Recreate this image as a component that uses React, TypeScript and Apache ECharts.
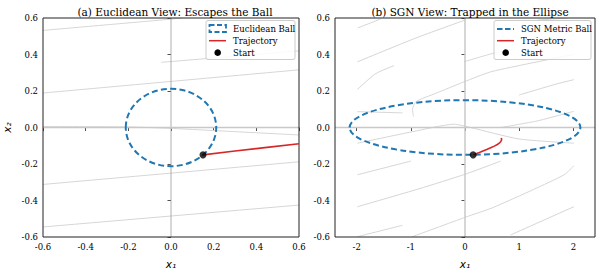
import React, { useEffect, useRef } from "react";
import * as echarts from "echarts";

const leftTitle = "(a) Euclidean View: Escapes the Ball";
const rightTitle = "(b) SGN View: Trapped in the Ellipse";
const leftXTicks = [-0.6, -0.4, -0.2, 0, 0.2, 0.4, 0.6];
const rightXTicks = [-2, -1, 0, 1, 2];
const yTicks = [-0.6, -0.4, -0.2, 0, 0.2, 0.4, 0.6];

// [cx, cy, rx, ry]
const euclidBall = [0, 0, 0.212, 0.212];
const sgnBall = [0, 0, 2.13, 0.15];

const startPoint = [0.15, -0.15];

const leftTrajectory = [
  [0.15, -0.15], [0.3, -0.129], [0.45, -0.109], [0.6, -0.089],
];
const rightTrajectory = [
  [0.154, -0.15], [0.25, -0.139], [0.32, -0.13], [0.4, -0.121], [0.474, -0.111],
  [0.54, -0.102], [0.597, -0.093], [0.632, -0.086], [0.658, -0.078],
  [0.672, -0.07], [0.676, -0.064], [0.67, -0.057],
];

const leftStreams = [
  [[-0.6, 0.532], [-0.046, 0.589], [0.05, 0.6]],
  [[-0.046, 0.357], [0.6, 0.42]],
  [[-0.6, 0.189], [0.6, 0.316]],
  [[-0.6, 0.005], [-0.2, 0.003], [0, -0.005], [0.6, -0.041]],
  [[-0.6, -0.312], [0.6, -0.188]],
  [[-0.6, -0.545], [0.6, -0.425]],
];

const rightStreams = [
  [[-1.985, 0.545], [-1.555, 0.595]],
  [[-1.985, 0.36], [-0.91, 0.49], [0.013, 0.59]],
  [[-1.985, 0.209], [-1.65, 0.295], [-1.31, 0.339]],
  [[-1.985, 0.087], [-1.155, 0.08]],
  [[-0.95, 0.06], [-0.97, 0.1], [-0.9, 0.143], [-0.54, 0.187], [-0.02, 0.25], [0.5, 0.307], [2.01, 0.4]],
  [[-0.02, 0.36], [0.5, 0.405], [0.9, 0.43]],
  [[1.0, 0.178], [1.67, 0.237], [2.01, 0.262]],
  [[0.66, 0.0], [1.335, 0.036], [2.01, 0.089]],
  [[1.34, 0.589], [1.89, 0.6]],
  [[-1.985, -0.086], [-0.97, -0.023], [-0.2, 0.018], [0.1, 0.0], [1.0, -0.063], [2.01, -0.086]],
  [[-1.985, -0.259], [-1.0, -0.184]],
  [[-1.985, -0.434], [-0.85, -0.336], [0.013, -0.255], [0.66, -0.184]],
  [[-1.985, -0.598], [-1.155, -0.536]],
  [[-0.97, -0.598], [0.013, -0.491], [0.505, -0.44], [1.27, -0.339], [1.83, -0.259], [2.01, -0.21]],
  [[0.84, -0.589], [2.01, -0.434]],
];

const SERIF = "DejaVu Serif";
const BLUE = "#1f77b4";
const RED = "#d62728";

const fmt1 = (v: number) => (Math.abs(v) < 1e-9 ? 0 : v).toFixed(1);

function ellipseSeries(ball: number[], idx: number) {
  return {
    type: "custom",
    xAxisIndex: idx,
    yAxisIndex: idx,
    clip: true,
    z: 4,
    data: [ball],
    renderItem: (params: any, api: any) => {
      const c = api.coord([api.value(0), api.value(1)]);
      const s = api.size([api.value(2), api.value(3)]);
      return {
        type: "ellipse",
        shape: { cx: c[0], cy: c[1], rx: s[0], ry: s[1] },
        style: { fill: "none", stroke: BLUE, lineWidth: 2, lineDash: [6, 3.3] },
      };
    },
  };
}

function streamSeries(streams: number[][][], idx: number) {
  return streams.map((s) => ({
    type: "line",
    xAxisIndex: idx,
    yAxisIndex: idx,
    data: s,
    symbol: "none",
    smooth: 0.2,
    silent: true,
    z: 1,
    lineStyle: { color: "#d6d6d6", width: 1 },
  }));
}

function refLines(idx: number, xr: number[], vColor: string, vWidth: number) {
  return [
    {
      type: "line", xAxisIndex: idx, yAxisIndex: idx, symbol: "none", z: 2, silent: true,
      data: [[0, -0.6], [0, 0.6]], lineStyle: { color: vColor, width: vWidth },
    },
    {
      type: "line", xAxisIndex: idx, yAxisIndex: idx, symbol: "none", z: 2, silent: true,
      data: [[xr[0], 0], [xr[1], 0]], lineStyle: { color: "#c8c8c8", width: 1.5 },
    },
  ];
}

function legendGraphic(x: number, w: number, label: string, patchIcon: boolean) {
  const t = (text: string, y: number) => ({
    type: "text", x: x + 27, y, z: 101,
    style: { text, fontFamily: SERIF, fontSize: 8.5, fill: "#000", verticalAlign: "middle", align: "left" },
  });
  const children: any[] = [
    {
      type: "rect", z: 100,
      shape: { x, y: 20.5, width: w, height: 39, r: 2 },
      style: { fill: "rgba(255,255,255,0.85)", stroke: "#cccccc", lineWidth: 1 },
    },
  ];
  if (patchIcon) {
    children.push({
      type: "rect", z: 101,
      shape: { x: x + 3.5, y: 25, width: 16.5, height: 7 },
      style: { fill: "none", stroke: BLUE, lineWidth: 1.8, lineDash: [5, 2.5] },
    });
  } else {
    children.push({
      type: "line", z: 101,
      shape: { x1: x + 3, y1: 29, x2: x + 20, y2: 29 },
      style: { stroke: BLUE, lineWidth: 2, lineDash: [5.5, 2.5] },
    });
  }
  children.push({
    type: "line", z: 101,
    shape: { x1: x + 3, y1: 40.7, x2: x + 20, y2: 40.7 },
    style: { stroke: RED, lineWidth: 1.5 },
  });
  children.push({
    type: "circle", z: 101,
    shape: { cx: x + 11.7, cy: 52.7, r: 3.3 },
    style: { fill: "#000" },
  });
  children.push(t(label, 29));
  children.push(t("Trajectory", 40.7));
  children.push(t("Start", 52.7));
  return children;
}

export default function App() {
  const ref = useRef<HTMLDivElement>(null);
  useEffect(() => {
    if (!ref.current) return;
    const chart = echarts.init(ref.current, undefined, { renderer: "svg" });
    const axisLabelStyle = { fontFamily: SERIF, fontSize: 8.5, color: "#000" };
    const nameStyle = { fontFamily: "DejaVu Sans", fontSize: 10.5, fontStyle: "italic", color: "#000" };
    const tick = { show: true, length: 3.5, lineStyle: { color: "#222", width: 0.8 } };
    const grids = [
      { left: 40, top: 18, width: 259, height: 224, show: true, borderColor: "#222", borderWidth: 1, backgroundColor: "transparent", z: 5 },
      { left: 335, top: 18, width: 260, height: 224, show: true, borderColor: "#222", borderWidth: 1, backgroundColor: "transparent", z: 5 },
    ];
    const titleStyle = { fontFamily: SERIF, fontSize: 10.5, fontWeight: "normal", color: "#000" };
    const option: any = {
      animation: false,
      backgroundColor: "#fff",
      title: [
        { text: leftTitle, left: 170, top: 1, textAlign: "center", textStyle: titleStyle },
        { text: rightTitle, left: 465, top: 1, textAlign: "center", textStyle: titleStyle },
      ],
      grid: grids,
      xAxis: [
        {
          type: "value", gridIndex: 0, min: leftXTicks[0], max: leftXTicks[leftXTicks.length - 1], interval: 0.2,
          axisLine: { show: false }, splitLine: { show: false }, axisTick: tick,
          axisLabel: { ...axisLabelStyle, formatter: fmt1, margin: 5 },
          name: "x₁", nameLocation: "middle", nameGap: 21, nameTextStyle: nameStyle,
        },
        {
          type: "value", gridIndex: 1, min: -2.4, max: 2.4,
          axisLine: { show: false }, splitLine: { show: false },
          axisTick: { ...tick, customValues: rightXTicks },
          axisLabel: { ...axisLabelStyle, customValues: rightXTicks, formatter: (v: number) => String(Math.round(v)), margin: 5 },
          name: "x₁", nameLocation: "middle", nameGap: 21, nameTextStyle: nameStyle,
        },
      ],
      yAxis: [
        {
          type: "value", gridIndex: 0, min: yTicks[0], max: yTicks[yTicks.length - 1], interval: 0.2,
          axisLine: { show: false }, splitLine: { show: false }, axisTick: tick,
          axisLabel: { ...axisLabelStyle, formatter: fmt1, margin: 5 },
          name: "x₂", nameLocation: "middle", nameGap: 31, nameTextStyle: nameStyle,
        },
        {
          type: "value", gridIndex: 1, min: yTicks[0], max: yTicks[yTicks.length - 1], interval: 0.2,
          axisLine: { show: false }, splitLine: { show: false }, axisTick: tick,
          axisLabel: { ...axisLabelStyle, formatter: fmt1, margin: 5 },
        },
      ],
      series: [
        ...streamSeries(leftStreams, 0),
        ...streamSeries(rightStreams, 1),
        ...refLines(0, [-0.6, 0.6], "#999999", 0.8),
        ...refLines(1, [-2.4, 2.4], "#c8c8c8", 1.5),
        ellipseSeries(euclidBall, 0),
        ellipseSeries(sgnBall, 1),
        {
          type: "line", xAxisIndex: 0, yAxisIndex: 0, data: leftTrajectory, symbol: "none", z: 6,
          lineStyle: { color: RED, width: 1.6 },
        },
        {
          type: "line", xAxisIndex: 1, yAxisIndex: 1, data: rightTrajectory, symbol: "none", z: 6,
          lineStyle: { color: RED, width: 1.6, join: "round" },
        },
        {
          type: "scatter", xAxisIndex: 0, yAxisIndex: 0, data: [startPoint], symbolSize: 7, z: 7,
          itemStyle: { color: "#000" },
        },
        {
          type: "scatter", xAxisIndex: 1, yAxisIndex: 1, data: [startPoint], symbolSize: 7, z: 7,
          itemStyle: { color: "#000" },
        },
      ],
      graphic: [
        ...legendGraphic(206, 89, "Euclidean Ball", true),
        ...legendGraphic(494, 97, "SGN Metric Ball", false),
      ],
    };
    chart.setOption(option);
    return () => chart.dispose();
  }, []);
  return (
    <div
      ref={ref}
      style={{ position: "fixed", left: 0, top: 0, width: 598, height: 274, background: "#fff" }}
    />
  );
}
